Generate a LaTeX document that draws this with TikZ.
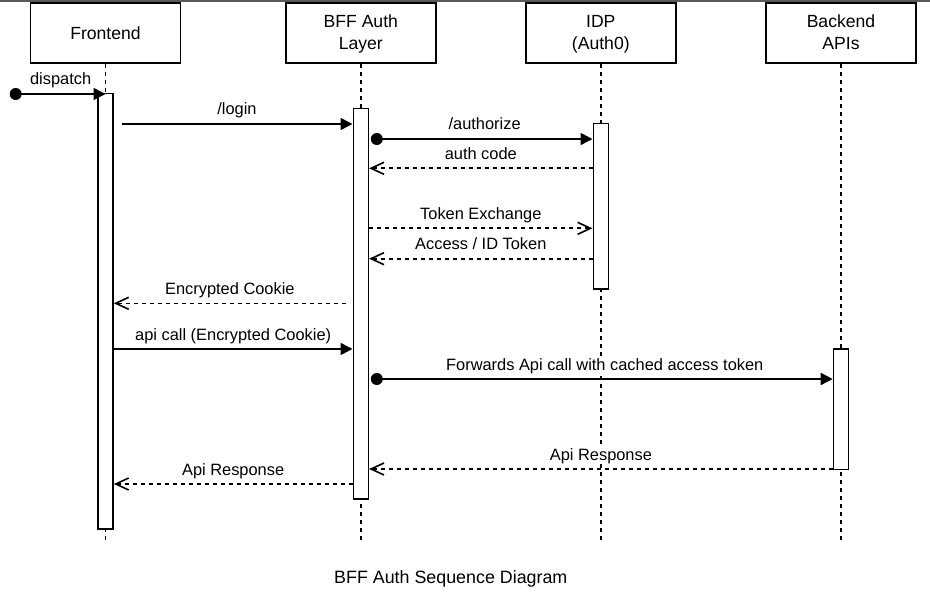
\documentclass[tikz,border=0pt]{standalone}
\usepackage{fontspec}
\setmainfont{Liberation Sans}
\usetikzlibrary{arrows.meta,calc}
\begin{document}
\begin{tikzpicture}[x=1pt,y=-1pt, line width=1.6pt,
  head/.style={draw, fill=white, minimum width=150pt, minimum height=60pt, inner sep=0pt, align=center, font=\fontsize{17.6}{22.3}\selectfont},
  twoline/.style={text height=36.8pt, text depth=4pt},
  bar/.style={draw, fill=white, minimum width=15pt, inner sep=0pt},
  life/.style={dash pattern=on 4pt off 4pt},
  call/.style={-{Triangle[length=12pt,width=12pt]}},
  ret/.style={dash pattern=on 4pt off 4pt, -{Straight Barb[length=13pt,width=12pt]}},
  dot/.style={circle, fill, inner sep=0pt, minimum size=12pt},
  lbl/.style={font=\fontsize{16.4}{19}\selectfont, anchor=base, inner sep=1pt, fill=white, yshift=9pt}
]
\useasboundingbox (0,0) rectangle (930,615);
\fill[white] (0,0) rectangle (930,615);
\fill[black!65] (0,0) rectangle (930,1.7);

% heads
\node[head] (h1) at (105.5,33.3) {Frontend};
\node[head, twoline] (h2) at (360.8,33.3) {BFF Auth\\Layer};
\node[head, twoline] (h3) at (600.8,33.3) {IDP\\(Auth0)};
\node[head, twoline] (h4) at (841,33.3) {Backend\\APIs};

\coordinate (e) at (0,544);
\foreach \h in {h1,h2,h3,h4} \draw[life] (\h.south) -- (\h.south |- e);

% activation bars
\node[bar, minimum height=435.7pt] (fa) at (105.5,311.2) {};
\node[bar, minimum height=390.7pt] (ba) at (360.8,303.7) {};
\node[bar, minimum height=165.7pt] (ia) at (600.8,206.2) {};
\node[bar, minimum height=120.6pt] (ka) at (841,409) {};

% message levels
\coordinate (y1) at (0,94);
\coordinate (y2) at (0,124);
\coordinate (y3) at (0,139);
\coordinate (y4) at (0,168.3);
\coordinate (y5) at (0,228.3);
\coordinate (y6) at (0,258.7);
\coordinate (y7) at (0,303.3);
\coordinate (y8) at (0,349);
\coordinate (y9) at (0,379);
\coordinate (y10) at (0,469);
\coordinate (y11) at (0,484);

% dots
\node[dot] (d1) at (15.7,94) {};
\node[dot] (d3) at ([xshift=7.7pt]ba.east |- y3) {};
\node[dot] (d9) at ([xshift=7.7pt]ba.east |- y9) {};

% messages
\draw[call] (d1.center) -- node[lbl]{dispatch} (fa.center |- y1);
\draw[call] ([xshift=7.7pt]fa.east |- y2) -- node[lbl]{/login} (ba.west |- y2);
\draw[call] (d3.center) -- node[lbl]{/authorize} (ia.west |- y3);
\draw[ret] (ia.west |- y4) -- node[lbl]{auth code} (ba.east |- y4);
\draw[ret] (ba.east |- y5) -- node[lbl]{Token Exchange} (ia.west |- y5);
\draw[ret] (ia.west |- y6) -- node[lbl]{Access / ID Token} (ba.east |- y6);
\draw[ret] ([xshift=-6.6pt]ba.west |- y7) -- node[lbl]{Encrypted Cookie} (fa.east |- y7);
\draw[call] (fa.east |- y8) -- node[lbl]{api call (Encrypted Cookie)} (ba.west |- y8);
\draw[call] (d9.center) -- node[lbl]{Forwards Api call with cached access token} (ka.west |- y9);
\draw[ret] (ka.west |- y10) -- node[lbl]{Api Response} (ba.east |- y10);
\draw[ret] (ba.west |- y11) -- node[lbl]{Api Response} (fa.east |- y11);

% caption
\node[font=\fontsize{17.85}{20}\selectfont, anchor=base, inner sep=0pt] (cap) at (450.8,583.3) {BFF Auth Sequence Diagram};
\end{tikzpicture}
\end{document}
